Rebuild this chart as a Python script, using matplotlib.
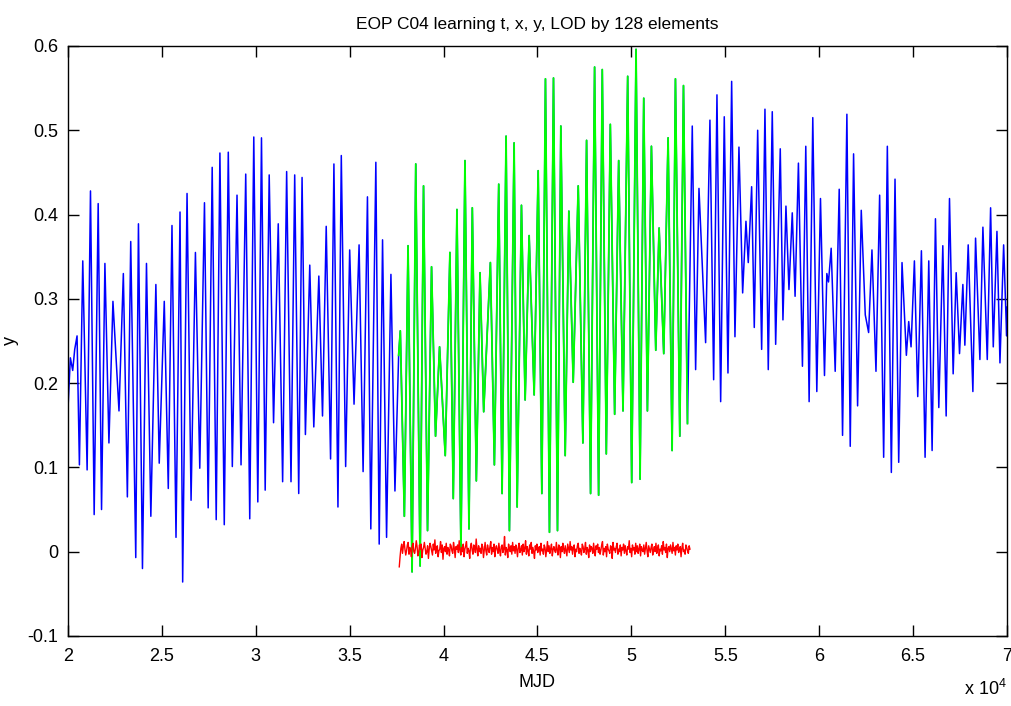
import numpy as np
import matplotlib
matplotlib.use("Agg")
import matplotlib.pyplot as plt
from matplotlib import font_manager as fm

# ---------------- data ----------------
blue1_mjd = [20000, 20125, 20250, 20357, 20482, 20607, 20786, 21018, 21197, 21393,
             21607, 21786, 21965, 22179, 22393, 22715, 22947, 23161, 23340, 23608,
             23751, 23965, 24179, 24411, 24679, 24858, 25126, 25340, 25537, 25751,
             25965, 26106, 26339, 26553, 26785, 27017, 27267, 27464, 27678, 27892,
             28089, 28321, 28535, 28750, 29000, 29214, 29464, 29678, 29893, 30107,
             30303, 30500, 30714, 30946, 31196, 31429, 31643, 31875, 32072, 32286,
             32464, 32642, 32874, 33089, 33357, 33553, 33750, 33982, 34160, 34375,
             34553, 34785, 35000, 35232, 35500, 35714, 35946, 36125, 36393, 36571,
             36750, 36964, 37196, 37410]
blue1_y = [0.17, 0.23, 0.215, 0.24, 0.256, 0.103, 0.345, 0.097, 0.428, 0.044,
           0.413, 0.05, 0.342, 0.129, 0.297, 0.167, 0.33, 0.065, 0.368, -0.007,
           0.389, -0.02, 0.342, 0.042, 0.317, 0.105, 0.297, 0.075, 0.387, 0.017,
           0.403, -0.036, 0.425, 0.061, 0.355, 0.099, 0.414, 0.052, 0.456, 0.038,
           0.473, 0.032, 0.474, 0.101, 0.423, 0.103, 0.448, 0.039, 0.492, 0.059,
           0.491, 0.073, 0.447, 0.153, 0.389, 0.083, 0.451, 0.083, 0.447, 0.069,
           0.444, 0.139, 0.34, 0.148, 0.327, 0.161, 0.386, 0.11, 0.46, 0.053,
           0.47, 0.101, 0.358, 0.175, 0.364, 0.095, 0.421, 0.027, 0.462, 0.009,
           0.37, 0.017, 0.329, 0.072]

green_mjd = [37607, 37696, 37911, 38107, 38322, 38518, 38750, 38932, 39145, 39359,
             39572, 39786, 40089, 40338, 40516, 40712, 40925, 41139, 41352, 41530,
             41744, 41940, 42136, 42492, 42705, 42937, 43115, 43328, 43506, 43755,
             43916, 44147, 44343, 44556, 44823, 45037, 45233, 45425, 45639, 45853,
             46066, 46244, 46476, 46671, 46903, 47170, 47419, 47615, 47828, 48042,
             48256, 48451, 48665, 48879, 49110, 49324, 49555, 49804, 50018, 50249,
             50463, 50659, 50854, 51068, 51299, 51477, 51724, 51956, 52169, 52347,
             52579, 52775, 52988]
green_y = [0.233, 0.262, 0.042, 0.363, -0.024, 0.46, -0.017, 0.434, 0.025, 0.338,
           0.137, 0.243, 0.114, 0.355, 0.063, 0.406, 0.002, 0.464, 0.027, 0.408,
           0.084, 0.331, 0.166, 0.343, 0.103, 0.436, 0.069, 0.493, 0.025, 0.485,
           0.053, 0.411, 0.18, 0.375, 0.186, 0.452, 0.069, 0.561, 0.023, 0.562,
           0.025, 0.505, 0.114, 0.404, 0.201, 0.434, 0.129, 0.488, 0.069, 0.575,
           0.067, 0.572, 0.116, 0.507, 0.163, 0.464, 0.167, 0.564, 0.082, 0.596,
           0.086, 0.538, 0.167, 0.481, 0.239, 0.384, 0.235, 0.491, 0.12, 0.561,
           0.137, 0.553, 0.152]

blue2_mjd = [53243, 53422, 53600, 53954, 54184, 54381, 54558, 54755, 54947, 55144,
             55340, 55516, 55729, 55926, 56102, 56225, 56405, 56545, 56726, 56938,
             57114, 57290, 57503, 57684, 57929, 58072, 58232, 58392, 58568, 58718,
             58896, 59110, 59288, 59466, 59661, 59875, 60071, 60284, 60409, 60498,
             60640, 60854, 61068, 61246, 61477, 61655, 61833, 62047, 62242, 62456,
             62634, 62812, 63026, 63221, 63435, 63631, 63844, 64040, 64236, 64413,
             64644, 64769, 64894, 65072, 65250, 65445, 65641, 65837, 66015, 66193,
             66371, 66585, 66763, 66941, 67136, 67297, 67475, 67653, 67759, 67937,
             68186, 68329, 68560, 68720, 68952, 69130, 69272, 69468, 69628, 69824,
             69984, 70000]
blue2_y = [0.505, 0.216, 0.431, 0.248, 0.512, 0.204, 0.542, 0.178, 0.516, 0.212,
           0.558, 0.255, 0.48, 0.307, 0.392, 0.343, 0.433, 0.266, 0.5, 0.24,
           0.525, 0.216, 0.522, 0.246, 0.478, 0.275, 0.41, 0.311, 0.402, 0.303,
           0.461, 0.22, 0.481, 0.178, 0.515, 0.19, 0.419, 0.209, 0.33, 0.32,
           0.36, 0.214, 0.43, 0.138, 0.519, 0.125, 0.472, 0.173, 0.405, 0.281,
           0.26, 0.358, 0.214, 0.423, 0.112, 0.481, 0.094, 0.442, 0.106, 0.343,
           0.233, 0.273, 0.243, 0.345, 0.184, 0.357, 0.112, 0.345, 0.12, 0.395,
           0.171, 0.363, 0.161, 0.419, 0.211, 0.331, 0.235, 0.317, 0.245, 0.364,
           0.19, 0.372, 0.228, 0.385, 0.228, 0.408, 0.243, 0.38, 0.224, 0.364,
           0.256, 0.29]

# residuals (in units of 0.001), sampled evenly from red_start to red_end
red_start, red_end = 37640, 53120
red_milli = [
    -18, -6, 4, 9, -2, 6, 12, 3, -4, 1, 8, 11, -3, 5, 2, -6, 7, 10, 0, -2,
    4, 13, 6, -5, -1, 8, 3, 9, -7, 2, 5, 11, 4, -3, 0, 7, -8, 3, 10, 6,
    1, -4, 9, 2, 14, -2, 5, 7, -6, 1, 3, 12, -1, 8, -9, 4, 6, 0, 10, -3,
    5, 2, -5, 9, 7, 1, -2, 11, 4, -7, 6, 3, 8, -1, 13, 2, -4, 5, 0, 9,
    -6, 3, 7, 12, -2, 4, 1, -8, 6, 10, 2, -3, 8, 5, -1, 15, 3, -5, 7, 0,
    4, -2, 9, 6, -7, 2, 11, 1, -4, 8, 3, -1, 6, 12, -3, 5, 0, 9, -6, 4,
    7, 2, -2, 10, 1, -5, 6, 8, -1, 3, 18, -4, 5, 2, -7, 9, 4, 0, 7, -3,
    11, 1, 6, -2, 8, 3, -6, 5, 10, -1, 2, 7, -4, 9, 0, 4, 13, -3, 6, 1,
    -5, 8, 3, 11, -2, 5, 0, -8, 7, 2, 9, -1, 4, 6, -4, 10, 1, 3, -3, 8,
    5, -6, 2, 12, 0, 7, -2, 4, 9, -5, 3, 6, 1, -1, 11, 2, -4, 8, 5, -7,
    6, 0, 10, 3, -2, 7, 1, -5, 9, 4, -1, 12, 2, 6, -3, 5, 8, -6, 3, 0,
    7, 10, -2, 4, 1, -4, 9, 6, -1, 3, 11, -3, 5, 2, -7, 8, 0, 6, 4, -2,
    10, 1, -5, 7, 3, 9, -1, 5, -3, 2, 8, 12, -4, 4, 0, 6, -6, 9, 3, 1,
    -2, 7, 5, -8, 11, 2, 4, -1, 6, 10, -3, 3, 0, 8, -5, 5, 2, 9, -2, 7,
    1, -4, 6, 3, 13, -1, 4, -6, 8, 2, 5, -3, 10, 0, 7, -2, 3, 9, -5, 6,
    2, 0, 8, -3, 4, 11, 1, -6, 7, 3, -1, 5, 9, -4, 2, 6, 0, 10, -2, 4,
    8, -5, 3, 1, 7, -3, 12, 2, 5, -1, 9, -7, 4, 6, 0, 8, 3, -2, 11, 1,
    5, -4, 7, 2, 9, -1, 3, 6, -6, 4, 10, 0, 2, -3, 8, 5, 1, -2, 7, 3]

x_ticks = [20000, 25000, 30000, 35000, 40000, 45000, 50000, 55000, 60000, 65000, 70000]
x_ticklabels = ['2', '2.5', '3', '3.5', '4', '4.5', '5', '5.5', '6', '6.5', '7']
y_ticks = [-0.1, 0.0, 0.1, 0.2, 0.3, 0.4, 0.5, 0.6]
y_ticklabels = ['-0.1', '0', '0.1', '0.2', '0.3', '0.4', '0.5', '0.6']

title = 'EOP C04 learning t, x, y, LOD by 128 elements'

# ---------------- font ----------------
names = {f.name for f in fm.fontManager.ttflist}
fam = ['Liberation Sans Narrow', 'DejaVu Sans'] if 'Liberation Sans Narrow' in names else ['Liberation Sans', 'DejaVu Sans']
plt.rcParams['font.family'] = fam
plt.rcParams['mathtext.fontset'] = 'custom'
plt.rcParams['mathtext.rm'] = fam[0]

# ---------------- plot ----------------
fig = plt.figure(figsize=(10.12, 7.06), dpi=100)
ax = fig.add_axes([0.0672, 0.0992, 0.9278, 0.8357])

blue_mjd = np.concatenate([blue1_mjd, green_mjd, blue2_mjd])
blue_y = np.concatenate([blue1_y, green_y, blue2_y])
ax.plot(blue_mjd, blue_y, color=(0, 0, 1), lw=1.1, zorder=2)
ax.plot(green_mjd, green_y, color=(0, 1, 0), lw=1.3, zorder=3)
red_mjd = np.linspace(red_start, red_end, len(red_milli))
ax.plot(red_mjd, np.array(red_milli) / 1000.0, color=(1, 0, 0), lw=1.0, zorder=4)

ax.set_xlim(20000, 70000)
ax.set_ylim(-0.1, 0.6)
ax.set_xticks(x_ticks)
ax.set_xticklabels(x_ticklabels)
ax.set_yticks(y_ticks)
ax.set_yticklabels(y_ticklabels)
ax.tick_params(direction='in', length=8, width=1, top=True, right=True,
               labelsize=13, colors='black')
ax.tick_params(axis='x', pad=9)
ax.tick_params(axis='y', pad=7)
for s in ax.spines.values():
    s.set_linewidth(1.0)
    s.set_color('black')

ax.set_title(title, fontsize=12.5, pad=12)
ax.set_xlabel('MJD', fontsize=13, labelpad=6)
ax.set_ylabel('y', fontsize=13)
ax.yaxis.set_label_coords(-0.052, 0.5)
ax.text(1.0, -0.072, r'x $\mathregular{10^{4}}$', transform=ax.transAxes,
        ha='right', va='top', fontsize=13)

fig.savefig('out.png', dpi=100, facecolor='white')
